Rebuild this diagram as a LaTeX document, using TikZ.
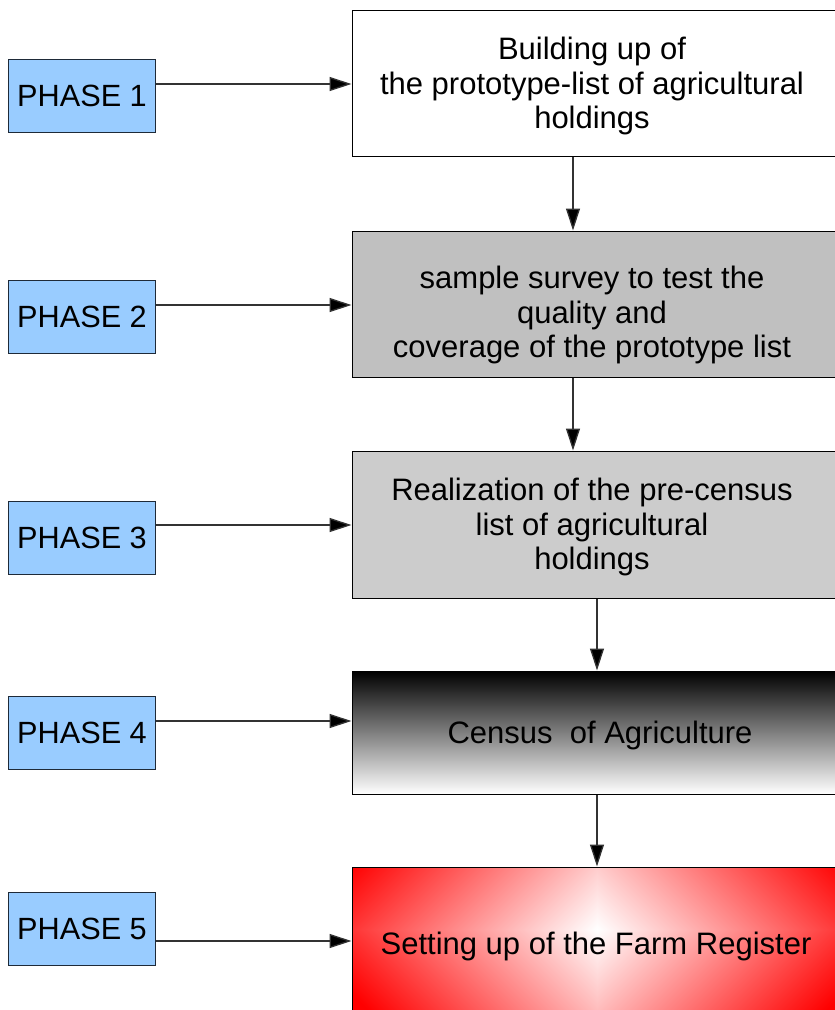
\documentclass[tikz,border=0pt]{standalone}
\usepackage{fontspec}
\setmainfont{Liberation Sans}
\usetikzlibrary{arrows.meta,calc}
\definecolor{phaseblue}{HTML}{99CCFF}
\definecolor{phaseline}{HTML}{1E2A38}
\definecolor{grayA}{HTML}{C0C0C0}
\definecolor{grayB}{HTML}{CCCCCC}
% diamond-shaped red/white gradient (middle 50bp square mapped to the box)
\pgfdeclarefunctionalshading{diamondred}{\pgfpoint{-50bp}{-50bp}}{\pgfpoint{50bp}{50bp}}{}{
  4.054 sub abs 0.0095484 mul exch abs 0.031613 mul add
  dup 1 gt {pop 1} if
  1 exch sub
  1 exch dup
}
\begin{document}
\begin{tikzpicture}[x=1bp,y=-1bp,
  every node/.style={inner sep=0pt},
  phasebox/.style={draw=phaseline, line width=1bp, fill=phaseblue,
    minimum width=146bp, minimum height=73bp, font=\fontsize{30.7bp}{35bp}\selectfont},
  stagebox/.style={draw=black, line width=1bp, minimum width=490bp},
  stagetext/.style={align=center, font=\fontsize{31bp}{34.3bp}\selectfont},
  arr/.style={draw=black!80, line width=1.3bp, -{Triangle[length=22bp,width=14bp,fill=black]}}
]
\useasboundingbox (0,0) rectangle (835,1010);
\clip (0,0) rectangle (835,1010);
\fill[white] (0,0) rectangle (835,1010);

% phase boxes
\node[phasebox] (p1) at (82,96)    {PHASE 1};
\node[phasebox] (p2) at (82,316.5) {PHASE 2};
\node[phasebox] (p3) at (82,537.5) {PHASE 3};
\node[phasebox] (p4) at (82,733)   {PHASE 4};
\node[phasebox] (p5) at (82,929)   {PHASE 5};

% stage boxes
\node[stagebox, fill=white, minimum height=146bp] (b1) at (597,83) {};
\node[stagebox, fill=grayA, minimum height=146bp] (b2) at (597,304) {};
\node[stagebox, fill=grayB, minimum height=147bp] (b3) at (597,524.5) {};
\node[stagebox, top color=black, bottom color=white, minimum height=123bp] (b4) at (597,732.5) {};
\node[stagebox, shading=diamondred, minimum height=148bp] (b5) at (597,941) {};

% stage texts
\node[stagetext] (t1) at (592,86) {Building up of\\the prototype-list of agricultural\\holdings};
\node[stagetext] (t2) at (592,315) {sample survey to test the\\quality and\\coverage of the prototype list};
\node[stagetext] (t3) at (592,527) {Realization of the pre-census\\list of agricultural\\holdings};
\node[stagetext] (t4) at (600,735) {Census\ \ of Agriculture};
\node[stagetext] (t5) at (596,946) {Setting up of the Farm Register};

% arrow heights
\coordinate (a1) at (0,84);
\coordinate (a2) at (0,305);
\coordinate (a3) at (0,525);
\coordinate (a4) at (0,721);
\coordinate (a5) at (0,941);
\coordinate (v1) at (573,0);

\draw[arr] (p1.east |- a1) -- (b1.west |- a1);
\draw[arr] (p2.east |- a2) -- (b2.west |- a2);
\draw[arr] (p3.east |- a3) -- (b3.west |- a3);
\draw[arr] (p4.east |- a4) -- (b4.west |- a4);
\draw[arr] (p5.east |- a5) -- (b5.west |- a5);

\draw[arr] (b1.south -| v1) -- (b2.north -| v1);
\draw[arr] (b2.south -| v1) -- (b3.north -| v1);
\draw[arr] (b3.south -| b4.north) -- (b4.north);
\draw[arr] (b4.south) -- (b5.north);
\end{tikzpicture}
\end{document}
